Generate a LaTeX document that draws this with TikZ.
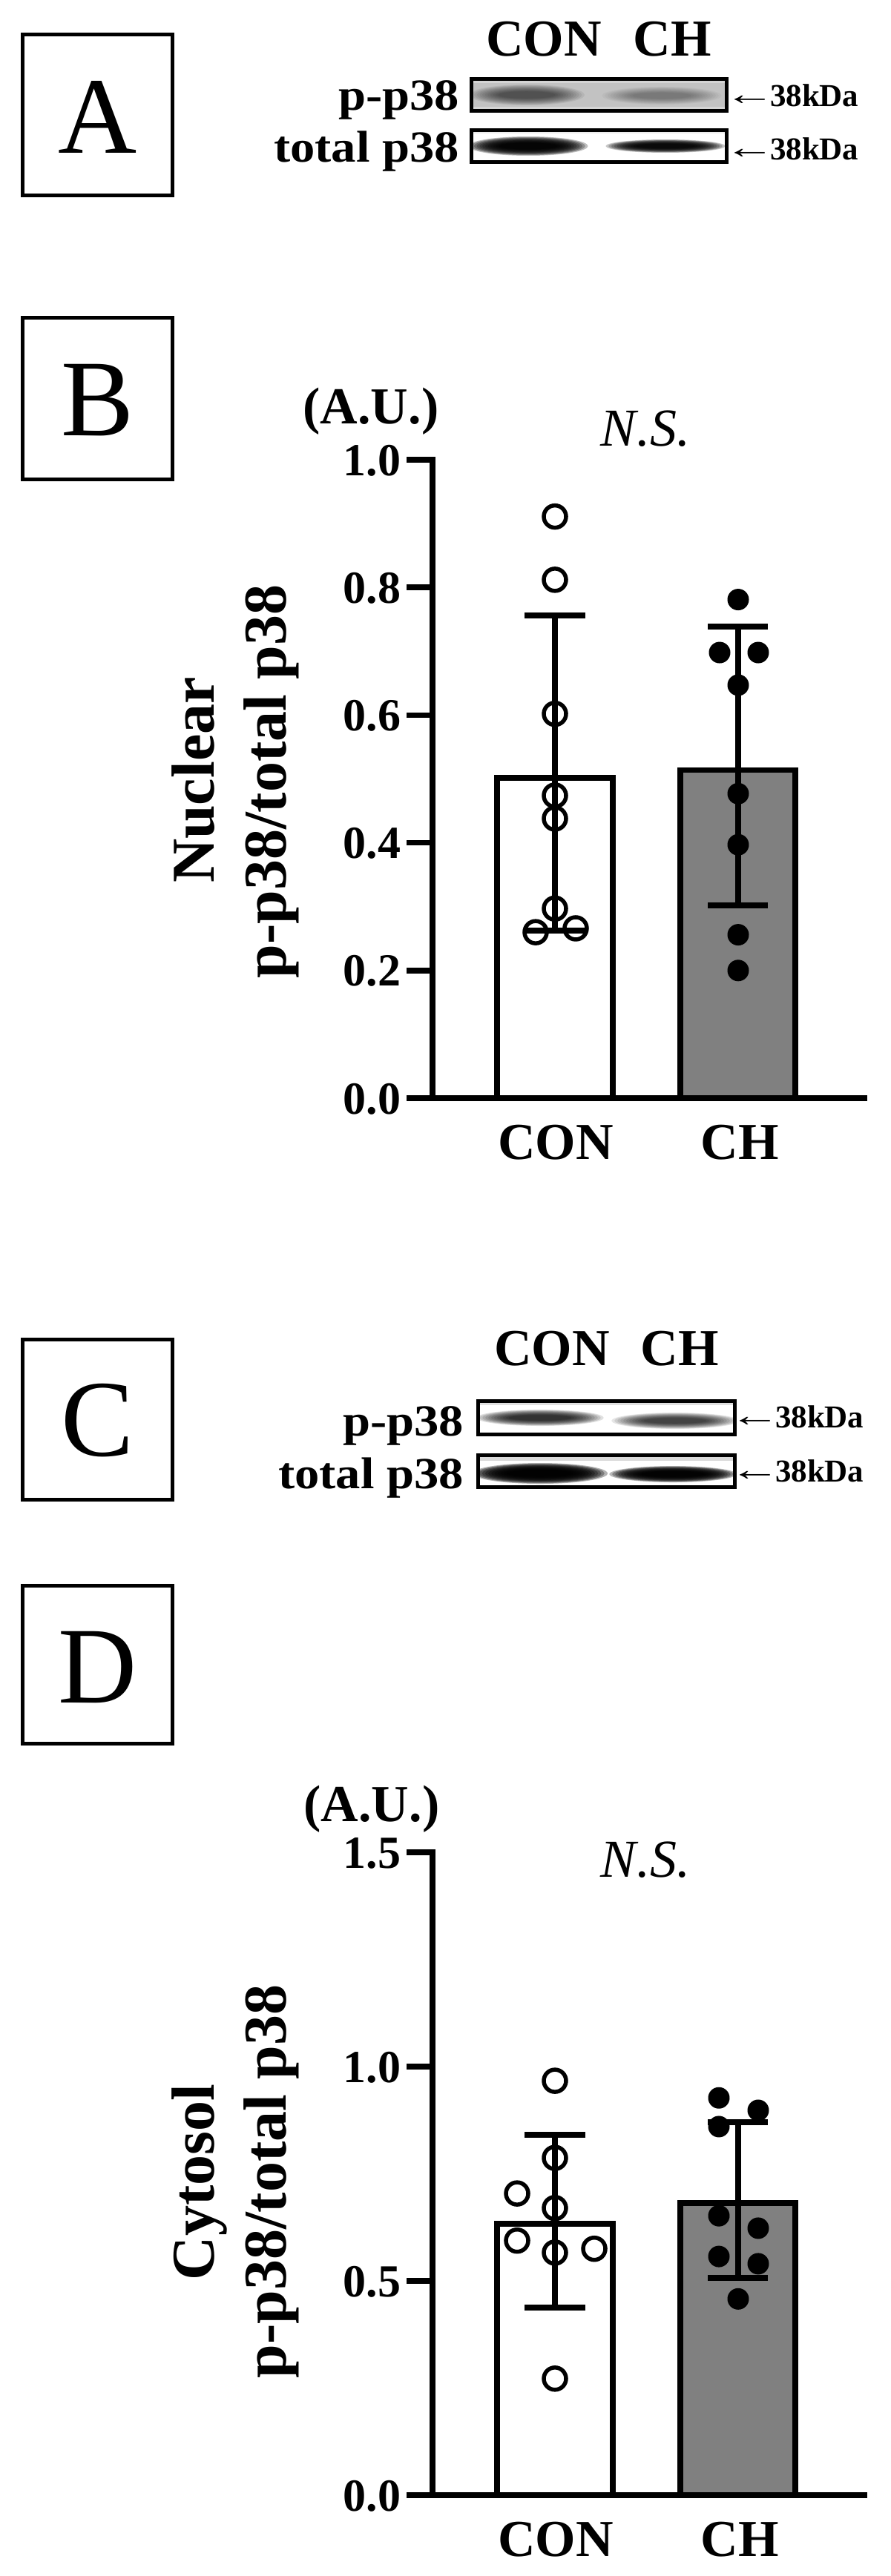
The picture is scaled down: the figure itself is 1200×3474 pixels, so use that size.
\documentclass[tikz,border=0pt]{standalone}
\usepackage{fontspec}
\setmainfont{Liberation Serif}
\newcommand\fLetter{\fontsize{147}{150}\selectfont}
\newcommand\fTick{\fontsize{62}{70}\selectfont\bfseries}
\newcommand\fGroup{\fontsize{70}{78}\selectfont\bfseries}
\newcommand\fTitle{\fontsize{82}{90}\selectfont\bfseries}
\newcommand\fBlot{\fontsize{60}{66}\selectfont\bfseries}
\newcommand\fKda{\fontsize{43}{48}\selectfont\bfseries}
\newcommand\fNS{\fontsize{72}{78}\selectfont\itshape}
\newcommand\kdaarrow{\scalebox{1.6}[1]{←}}
\newcommand\blotband[5]{%
  \foreach \k in {0,...,11}{%
    \fill[black, fill opacity=#5] (#1,#2) ellipse ({(#3)*(1.3-0.06*\k)*1pt} and {(#4)*(2.0-0.12*\k)*1pt});
  }}
\begin{document}
\begin{tikzpicture}[x=1pt,y=-1pt,
  frame/.style={line width=5pt},
  blotframe/.style={line width=5pt},
  axisline/.style={line width=7.5pt},
  barline/.style={line width=7.5pt},
  errline/.style={line width=8pt},
  opendot/.style={line width=5.5pt},
  lbl/.style={inner sep=0pt, outer sep=0pt},
]
\useasboundingbox (0,0) rectangle (1200,3474);
\fill[white] (0,0) rectangle (1200,3474);

% ---------- panel boxes ----------
\draw[frame] (30.5,46.5) rectangle (232.5,263.5);
\node[lbl, font=\fLetter] (labA) at (131.5,158) {A};
\draw[frame] (30.5,428.5) rectangle (232.5,646.5);
\node[lbl, font=\fLetter] (labB) at (131.5,540) {B};
\draw[frame] (30.5,1806.5) rectangle (232.5,2022.5);
\node[lbl, font=\fLetter] (labC) at (131.5,1916) {C};
\draw[frame] (30.5,2138.5) rectangle (232.5,2351.5);
\node[lbl, font=\fLetter] (labD) at (131.5,2248) {D};

% ---------- panel A blot ----------
\node[lbl, font=\fGroup, anchor=base] (aCON) at (733,75) {CON};
\node[lbl, font=\fGroup, anchor=base] (aCH) at (906,75) {CH};
\node[lbl, font=\fBlot, anchor=base east] (aPP) at (619,148) {\scalebox{1.11}[1]{p-p38}};
\node[lbl, font=\fBlot, anchor=base east] (aTP) at (619,218) {\scalebox{1.11}[1]{total p38}};
\begin{scope}
  \clip (635.5,106.5) rectangle (979.5,149.5);
  \fill[black!24] (635.5,106.5) rectangle (979.5,149.5);
  \fill[white, fill opacity=0.3] (635.5,106.5) rectangle (979.5,112);
  \fill[white, fill opacity=0.3] (635.5,144) rectangle (979.5,149.5);
  \blotband{710}{128}{60}{7}{0.065}
  \blotband{892}{129}{62}{6}{0.035}
\end{scope}
\draw[blotframe] (635.5,106.5) rectangle (979.5,149.5);
\begin{scope}
  \clip (635.5,175.5) rectangle (979.5,218.5);
  \fill[white] (635.5,175.5) rectangle (979.5,218.5);
  \fill[gray!15] (635.5,175.5) rectangle (979.5,180);
  \blotband{712}{197}{62}{6.5}{0.25}
  \blotband{897}{197}{62}{4.5}{0.22}
\end{scope}
\draw[blotframe] (635.5,175.5) rectangle (979.5,218.5);
\node[lbl, font=\fKda, anchor=base west] (aK1) at (1038,143) {38kDa};
\node[lbl, font=\fKda, anchor=base east] (aA1) at (1045,141) {\kdaarrow};
\node[lbl, font=\fKda, anchor=base west] (aK2) at (1038,215) {38kDa};
\node[lbl, font=\fKda, anchor=base east] (aA2) at (1045,213) {\kdaarrow};

% ---------- panel B chart ----------
\node[lbl, font=\fGroup, anchor=base] (bAU) at (500,571) {(A.U.)};
\node[lbl, font=\fNS, anchor=base] (bNS) at (870,601) {N.S.};
\node[lbl, font=\fTitle, anchor=base, rotate=90] (bT1) at (288,1052) {Nuclear};
\node[lbl, font=\fTitle, anchor=base, rotate=90] (bT2) at (385,1054) {p-p38/total p38};
\foreach \v/\t in {0/0.0,0.2/0.2,0.4/0.4,0.6/0.6,0.8/0.8,1/1.0}{
  \draw[axisline] (548,{1481-861*\v}) -- (583,{1481-861*\v});
  \node[lbl, font=\fTick, anchor=base east] (bTick\t) at (540,{1481-861*\v+21}) {\t};
}
\draw[barline, fill=white] (670,1481) rectangle (826,{1481-861*0.502});
\draw[barline, fill=gray] (917,1481) rectangle (1072,{1481-861*0.514});
% error bars
\draw[errline] (748,{1481-861*0.262}) -- (748,{1481-861*0.756});
\draw[errline] (707,{1481-861*0.756}) -- (789,{1481-861*0.756});
\draw[errline] (707,{1481-861*0.262}) -- (789,{1481-861*0.262});
\draw[errline] (995,{1481-861*0.302}) -- (995,{1481-861*0.739});
\draw[errline] (954,{1481-861*0.739}) -- (1035,{1481-861*0.739});
\draw[errline] (954,{1481-861*0.302}) -- (1035,{1481-861*0.302});
% dots
\foreach \px/\v in {748/0.911,748/0.812,748/0.602,748/0.474,748/0.438,748/0.297,722/0.260,776/0.266}{
  \draw[opendot] (\px,{1481-861*\v}) circle[radius=15pt];
}
\foreach \px/\v in {995/0.781,970/0.698,1022/0.698,995/0.647,995/0.477,995/0.397,995/0.256,995/0.200}{
  \fill (\px,{1481-861*\v}) circle[radius=14.5pt];
}
\draw[axisline] (583,616.25) -- (583,1481);
\draw[axisline] (579.25,1481) -- (1169,1481);
\node[lbl, font=\fGroup, anchor=base] (bCON) at (749,1563) {CON};
\node[lbl, font=\fGroup, anchor=base] (bCH) at (997,1563) {CH};

% ---------- panel C blot ----------
\node[lbl, font=\fGroup, anchor=base] (cCON) at (744,1841) {CON};
\node[lbl, font=\fGroup, anchor=base] (cCH) at (916,1841) {CH};
\node[lbl, font=\fBlot, anchor=base east] (cPP) at (625,1936) {\scalebox{1.11}[1]{p-p38}};
\node[lbl, font=\fBlot, anchor=base east] (cTP) at (625,2007) {\scalebox{1.11}[1]{total p38}};
\begin{scope}
  \clip (644.5,1889.5) rectangle (990.5,1934.5);
  \fill[white] (644.5,1889.5) rectangle (990.5,1934.5);
  \fill[gray!25] (644.5,1889.5) rectangle (990.5,1895);
  \blotband{728}{1912}{66}{5.5}{0.12}
  \blotband{910}{1916}{66}{5.5}{0.10}
\end{scope}
\draw[blotframe] (644.5,1889.5) rectangle (990.5,1934.5);
\begin{scope}
  \clip (644.5,1962.5) rectangle (990.5,2005.5);
  \fill[white] (644.5,1962.5) rectangle (990.5,2005.5);
  \fill[gray!30] (644.5,1962.5) rectangle (990.5,1970);
  \blotband{728}{1987}{70}{7}{0.3}
  \blotband{907}{1988}{66}{5.5}{0.28}
\end{scope}
\draw[blotframe] (644.5,1962.5) rectangle (990.5,2005.5);
\node[lbl, font=\fKda, anchor=base west] (cK1) at (1045,1925) {38kDa};
\node[lbl, font=\fKda, anchor=base east] (cA1) at (1052,1923) {\kdaarrow};
\node[lbl, font=\fKda, anchor=base west] (cK2) at (1045,1998) {38kDa};
\node[lbl, font=\fKda, anchor=base east] (cA2) at (1052,1996) {\kdaarrow};

% ---------- panel D chart ----------
\node[lbl, font=\fGroup, anchor=base] (dAU) at (501,2456) {(A.U.)};
\node[lbl, font=\fNS, anchor=base] (dNS) at (870,2531) {N.S.};
\node[lbl, font=\fTitle, anchor=base, rotate=90] (dT1) at (288,2943) {Cytosol};
\node[lbl, font=\fTitle, anchor=base, rotate=90] (dT2) at (385,2942) {p-p38/total p38};
\foreach \v/\t in {0/0.0,0.5/0.5,1/1.0,1.5/1.5}{
  \draw[axisline] (548,{3365-578*\v}) -- (583,{3365-578*\v});
  \node[lbl, font=\fTick, anchor=base east] (dTick\t) at (540,{3365-578*\v+21}) {\t};
}
\draw[barline, fill=white] (670,3365) rectangle (826,{3365-578*0.633});
\draw[barline, fill=gray] (917,3365) rectangle (1072,{3365-578*0.682});
\draw[errline] (748,{3365-578*0.438}) -- (748,{3365-578*0.841});
\draw[errline] (707,{3365-578*0.841}) -- (789,{3365-578*0.841});
\draw[errline] (707,{3365-578*0.438}) -- (789,{3365-578*0.438});
\draw[errline] (995,{3365-578*0.507}) -- (995,{3365-578*0.871});
\draw[errline] (954,{3365-578*0.871}) -- (1035,{3365-578*0.871});
\draw[errline] (954,{3365-578*0.507}) -- (1035,{3365-578*0.507});
\foreach \px/\v in {748/0.967,748/0.787,697/0.704,748/0.670,697/0.594,748/0.566,801/0.575,748/0.272}{
  \draw[opendot] (\px,{3365-578*\v}) circle[radius=15pt];
}
\foreach \px/\v in {969/0.927,1022/0.898,969/0.860,969/0.652,1022/0.623,969/0.557,1022/0.540,995/0.458}{
  \fill (\px,{3365-578*\v}) circle[radius=14.5pt];
}
\draw[axisline] (583,2494.25) -- (583,3365);
\draw[axisline] (579.25,3365) -- (1169,3365);
\node[lbl, font=\fGroup, anchor=base] (dCON) at (749,3447) {CON};
\node[lbl, font=\fGroup, anchor=base] (dCH) at (997,3447) {CH};
\end{tikzpicture}
\end{document}
